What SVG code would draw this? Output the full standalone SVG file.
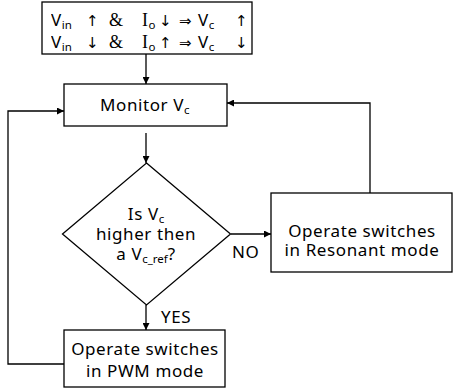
<svg xmlns="http://www.w3.org/2000/svg" width="454" height="389" viewBox="0 0 454 389">
<style>
.box{fill:#fff;stroke:#000;stroke-width:1.3}
.ln{fill:none;stroke:#000;stroke-width:1.3}
text{font-family:"Noto Sans","Liberation Sans",sans-serif;font-size:17px;letter-spacing:0.6px;fill:#000}
.c{text-anchor:middle}
.sub{font-size:11.5px;letter-spacing:0}
.ser{font-family:"Liberation Serif",serif;font-size:18px}
.ar{font-family:"DejaVu Sans",sans-serif;font-size:15px;letter-spacing:0}
.t{opacity:0.999}
</style>
<defs>
<marker id="ah" viewBox="0 0 10 10" refX="10" refY="5" markerWidth="7" markerHeight="7" markerUnits="userSpaceOnUse" orient="auto">
<path d="M0,0 L10,5 L0,10 z" fill="#000"/>
</marker>
</defs>
<g id="connectors">
<path class="ln" d="M146,54 V84" marker-end="url(#ah)"/>
<path class="ln" d="M146,133 V163" marker-end="url(#ah)"/>
<path class="ln" d="M231,234 H271" marker-end="url(#ah)"/>
<path class="ln" d="M146,305 V330" marker-end="url(#ah)"/>
<path class="ln" d="M370,193 V103 H227" marker-end="url(#ah)"/>
<path class="ln" d="M64,364 H8 V111 H64" marker-end="url(#ah)"/>
<text x="232" y="258">NO</text>
<text x="161" y="323">YES</text>
</g>
<g id="conditions">
<rect class="box" x="42" y="2" width="210" height="52"/>
<g class="t">
<text y="26"><tspan x="51">V</tspan><tspan class="sub" dy="3">in</tspan><tspan class="ar" x="86" dy="-3">↑</tspan><tspan x="109" class="ser">&amp;</tspan><tspan x="142" class="ser">I</tspan><tspan class="sub" dy="3">o</tspan><tspan class="ar" x="159" dy="-3">↓</tspan><tspan class="ar" x="179">⇒</tspan><tspan x="198">V</tspan><tspan class="sub" dy="3">c</tspan><tspan class="ar" x="235" dy="-3">↑</tspan></text>
<text y="48"><tspan x="51">V</tspan><tspan class="sub" dy="3">in</tspan><tspan class="ar" x="86" dy="-3">↓</tspan><tspan x="109" class="ser">&amp;</tspan><tspan x="142" class="ser">I</tspan><tspan class="sub" dy="3">o</tspan><tspan class="ar" x="159" dy="-3">↑</tspan><tspan class="ar" x="179">⇒</tspan><tspan x="198">V</tspan><tspan class="sub" dy="3">c</tspan><tspan class="ar" x="235" dy="-3">↓</tspan></text>
</g>
</g>
<g id="monitor">
<rect class="box" x="64" y="84" width="163" height="42"/>
<text x="100" y="111">Monitor V<tspan class="sub" dy="3">c</tspan></text>
</g>
<g id="decision">
<path class="box" d="M146.5,163 L230.5,234 L146.5,305 L62.5,234 z"/>
<text class="c" x="146" y="220">Is V<tspan class="sub" dy="3">c</tspan></text>
<text class="c" x="146" y="240">higher then</text>
<text class="c" x="146" y="260">a V<tspan class="sub" dy="3">c_ref</tspan><tspan dy="-3">?</tspan></text>
</g>
<g id="resonant">
<rect class="box" x="271" y="193" width="181" height="79"/>
<text class="c" x="362" y="237">Operate switches</text>
<text class="c" x="362" y="256">in Resonant mode</text>
</g>
<g id="pwm">
<rect class="box" x="64" y="330" width="161" height="57"/>
<text class="c" x="145" y="355">Operate switches</text>
<text class="c" x="145" y="377">in PWM mode</text>
</g>
</svg>
